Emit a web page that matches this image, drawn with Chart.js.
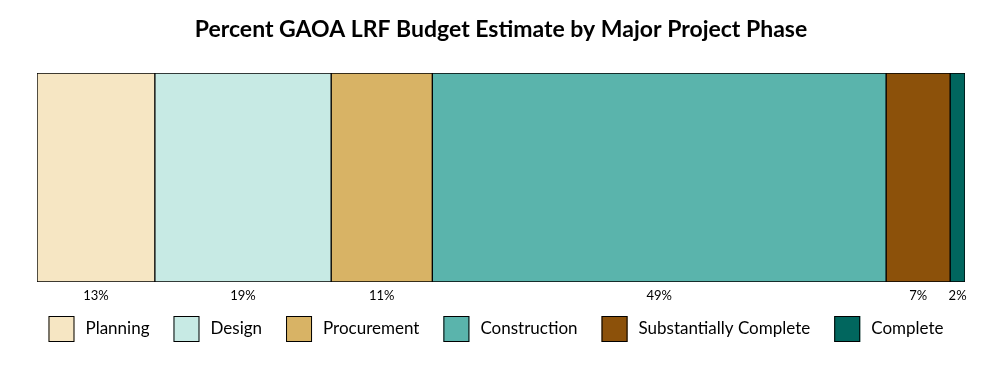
<!DOCTYPE html>
<html>
<head>
<meta charset="utf-8">
<script src="https://cdn.jsdelivr.net/npm/chart.js@4.4.1/dist/chart.umd.min.js"></script>
<style>
  html, body { margin: 0; padding: 0; background: #ffffff; }
  #wrap { width: 997px; height: 378px; position: relative; }
</style>
</head>
<body>
<div id="wrap"><canvas id="c" width="997" height="378"></canvas></div>
<script>
const chartTitle = 'Percent GAOA LRF Budget Estimate by Major Project Phase';
const categories = ['Budget'];
const phases = ['Planning', 'Design', 'Procurement', 'Construction', 'Substantially Complete', 'Complete'];
const percentValues = [12.7, 19.0, 10.9, 48.9, 6.9, 1.6];
const phaseColors = ['#F6E6C3', '#C7EAE4', '#D8B365', '#5AB4AC', '#8C510A', '#01665E'];

const FONT = 'Lato, "Open Sans", "DejaVu Sans", sans-serif';

const datasets = phases.map((p, i) => ({
  label: p,
  data: [percentValues[i]],
  backgroundColor: phaseColors[i],
  borderColor: '#000000',
  borderWidth: 1,
  borderSkipped: false,
  barPercentage: 1.0,
  categoryPercentage: 1.0
}));

const pctLabels = {
  id: 'pctLabels',
  afterDatasetsDraw(chart) {
    const ctx = chart.ctx;
    const area = chart.chartArea;
    ctx.save();
    ctx.font = '13px ' + FONT;
    ctx.fillStyle = '#000000';
    ctx.textAlign = 'center';
    ctx.textBaseline = 'middle';
    chart.data.datasets.forEach((ds, i) => {
      const el = chart.getDatasetMeta(i).data[0];
      if (!el) return;
      const cx = (el.x + el.base) / 2;
      ctx.fillText(Math.round(ds.data[0]) + '%', cx, area.bottom + 14);
    });
    ctx.restore();
  }
};

const customLegend = {
  id: 'customLegend',
  afterDraw(chart) {
    const ctx = chart.ctx;
    const box = 26, gapText = 11, gapItem = 24;
    ctx.save();
    ctx.font = '17px ' + FONT;
    const items = chart.data.datasets.map(ds => ({
      label: ds.label, color: ds.backgroundColor, w: ctx.measureText(ds.label).width
    }));
    let total = 0;
    items.forEach((it, i) => { total += box + gapText + it.w + (i < items.length - 1 ? gapItem : 0); });
    let x = 496 - total / 2;
    const cy = chart.chartArea.bottom + 47;
    ctx.textBaseline = 'middle';
    ctx.textAlign = 'left';
    items.forEach(it => {
      ctx.fillStyle = it.color;
      ctx.fillRect(x, cy - box / 2, box, box);
      ctx.strokeStyle = '#000000';
      ctx.lineWidth = 1;
      ctx.strokeRect(x + 0.5, cy - box / 2 + 0.5, box - 1, box - 1);
      ctx.fillStyle = '#000000';
      ctx.fillText(it.label, x + box + gapText, cy);
      x += box + gapText + it.w + gapItem;
    });
    ctx.restore();
  }
};

new Chart(document.getElementById('c'), {
  type: 'bar',
  data: { labels: categories, datasets: datasets },
  options: {
    indexAxis: 'y',
    responsive: false,
    animation: false,
    layout: { padding: { left: 37, right: 32, top: 0, bottom: 72 } },
    scales: {
      x: {
        stacked: true, min: 0, max: 100,
        grid: { display: false }, border: { display: false },
        ticks: { display: false },
        afterFit(scale) { scale.height = 24; }
      },
      y: { stacked: true, display: false }
    },
    plugins: {
      title: {
        display: true, text: chartTitle, color: '#000000',
        font: { family: FONT, size: 23, weight: 'bold' },
        padding: { top: 16, bottom: 29.5 }
      },
      legend: { display: false },
      tooltip: { enabled: false }
    }
  },
  plugins: [pctLabels, customLegend]
});
</script>
</body>
</html>
